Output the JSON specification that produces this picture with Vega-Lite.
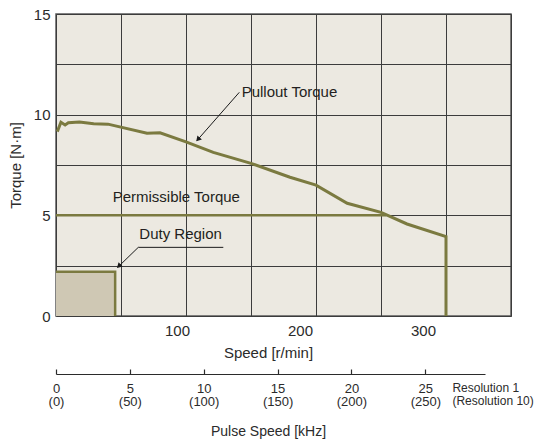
{
  "$schema": "https://vega.github.io/schema/vega-lite/v6.json",
  "padding": {"left": 8, "top": 7, "right": 5, "bottom": 5},
  "background": "white",
  "width": 455,
  "height": 302,
  "config": {
    "font": "Liberation Sans",
    "axis": {
      "labelFont": "Liberation Sans",
      "titleFont": "Liberation Sans",
      "labelColor": "#2b2b2b",
      "titleColor": "#2b2b2b",
      "titleFontWeight": "normal",
      "labelFontSize": 15,
      "titleFontSize": 15
    }
  },
  "view": {"fill": "#ece9e1", "stroke": "#5a5a5a", "strokeWidth": 1.5},
  "datasets": {
    "pullout": [
      {"i": 0, "r": 1, "t": 9.16},
      {"i": 1, "r": 3.8, "t": 9.62},
      {"i": 2, "r": 7, "t": 9.49},
      {"i": 3, "r": 9.5, "t": 9.6},
      {"i": 4, "r": 18, "t": 9.64},
      {"i": 5, "r": 29, "t": 9.55},
      {"i": 6, "r": 40, "t": 9.53},
      {"i": 7, "r": 70, "t": 9.08},
      {"i": 8, "r": 80, "t": 9.1},
      {"i": 9, "r": 100, "t": 8.65},
      {"i": 10, "r": 121, "t": 8.13},
      {"i": 11, "r": 150, "t": 7.58},
      {"i": 12, "r": 180, "t": 6.89},
      {"i": 13, "r": 200, "t": 6.5},
      {"i": 14, "r": 224, "t": 5.6},
      {"i": 15, "r": 250, "t": 5.15},
      {"i": 16, "r": 270, "t": 4.57},
      {"i": 17, "r": 300, "t": 3.94},
      {"i": 18, "r": 300, "t": 0}
    ],
    "permissible": [
      {"r": 0, "t": 5},
      {"r": 254, "t": 5}
    ],
    "dutybox": [
      {"r": 0, "r2": 45.5, "t": 0, "t2": 2.2}
    ],
    "dutyedge": [
      {"i": 0, "r": 0, "t": 2.2},
      {"i": 1, "r": 45.5, "t": 2.2},
      {"i": 2, "r": 45.5, "t": 0}
    ],
    "leaders": [
      {"g": "pullout", "i": 0, "r": 141, "t": 11.11},
      {"g": "pullout", "i": 1, "r": 108.5, "t": 8.72},
      {"g": "duty", "i": 0, "r": 128.7, "t": 3.41},
      {"g": "duty", "i": 1, "r": 63.3, "t": 3.41},
      {"g": "duty", "i": 2, "r": 47.5, "t": 2.42}
    ],
    "headPullout": [{"r": 109.2, "t": 8.77}],
    "headDuty": [{"r": 48.3, "t": 2.47}],
    "notes": [
      {"r": 142.8, "t": 11.14, "label": "Pullout Torque"},
      {"r": 43.6, "t": 5.9, "label": "Permissible Torque"},
      {"r": 64.1, "t": 4.07, "label": "Duty Region"}
    ]
  },
  "resolve": {"scale": {"x": "independent"}},
  "layer": [
    {
      "data": {"name": "dutybox"},
      "mark": {"type": "rect", "fill": "#cfc8b4", "stroke": null},
      "encoding": {
        "x": {"field": "r", "type": "quantitative",
          "scale": {"domain": [0, 350], "nice": false, "zero": false},
          "axis": {"values": [0, 50, 100, 150, 200, 250, 300, 350], "grid": true, "gridColor": "#3c3c3c", "gridWidth": 1, "gridOpacity": 1, "labels": false, "ticks": false, "domain": false, "title": null, "orient": "bottom"}},
        "x2": {"field": "r2"},
        "y": {"field": "t", "type": "quantitative",
          "scale": {"domain": [0, 15], "nice": false, "zero": false},
          "axis": {"values": [0, 2.5, 5, 7.5, 10, 12.5, 15], "labelExpr": "datum.value % 5 == 0 ? datum.label : ''", "grid": true, "gridColor": "#3c3c3c", "gridWidth": 1, "gridOpacity": 1, "ticks": false, "domain": false, "labelPadding": 6, "title": "Torque [N·m]", "titlePadding": 10}},
        "y2": {"field": "t2"}
      }
    },
    {
      "data": {"name": "dutyedge"},
      "mark": {"type": "line", "color": "#7b7a40", "strokeWidth": 2.5},
      "encoding": {
        "x": {"field": "r", "type": "quantitative", "scale": {"domain": [0, 350], "nice": false, "zero": false}, "axis": null},
        "y": {"field": "t", "type": "quantitative"},
        "order": {"field": "i", "type": "quantitative"}
      }
    },
    {
      "data": {"name": "permissible"},
      "mark": {"type": "line", "color": "#7b7a40", "strokeWidth": 2.5},
      "encoding": {
        "x": {"field": "r", "type": "quantitative", "scale": {"domain": [0, 350], "nice": false, "zero": false}, "axis": null},
        "y": {"field": "t", "type": "quantitative"}
      }
    },
    {
      "data": {"name": "pullout"},
      "mark": {"type": "line", "color": "#7b7a40", "strokeWidth": 3},
      "encoding": {
        "x": {"field": "r", "type": "quantitative", "scale": {"domain": [0, 350], "nice": false, "zero": false}, "axis": null},
        "y": {"field": "t", "type": "quantitative"},
        "order": {"field": "i", "type": "quantitative"}
      }
    },
    {
      "data": {"name": "leaders"},
      "mark": {"type": "line", "color": "#1a1a1a", "strokeWidth": 1},
      "encoding": {
        "x": {"field": "r", "type": "quantitative", "scale": {"domain": [0, 350], "nice": false, "zero": false}, "axis": null},
        "y": {"field": "t", "type": "quantitative"},
        "detail": {"field": "g"},
        "order": {"field": "i", "type": "quantitative"}
      }
    },
    {
      "data": {"name": "headPullout"},
      "mark": {"type": "point", "shape": "triangle-up", "filled": true, "color": "#1a1a1a", "opacity": 1, "size": 35, "angle": 221},
      "encoding": {
        "x": {"field": "r", "type": "quantitative", "scale": {"domain": [0, 350], "nice": false, "zero": false}, "axis": null},
        "y": {"field": "t", "type": "quantitative"}
      }
    },
    {
      "data": {"name": "headDuty"},
      "mark": {"type": "point", "shape": "triangle-up", "filled": true, "color": "#1a1a1a", "opacity": 1, "size": 35, "angle": 226},
      "encoding": {
        "x": {"field": "r", "type": "quantitative", "scale": {"domain": [0, 350], "nice": false, "zero": false}, "axis": null},
        "y": {"field": "t", "type": "quantitative"}
      }
    },
    {
      "data": {"name": "notes"},
      "mark": {"type": "text", "align": "left", "baseline": "middle", "fontSize": 15, "color": "#231f20", "font": "Liberation Sans"},
      "encoding": {
        "x": {"field": "r", "type": "quantitative", "scale": {"domain": [0, 350], "nice": false, "zero": false}, "axis": null},
        "y": {"field": "t", "type": "quantitative"},
        "text": {"field": "label"}
      }
    },
    {
      "data": {"values": [{"r": 0}]},
      "mark": {"type": "point", "opacity": 0},
      "encoding": {
        "x": {"field": "r", "type": "quantitative",
          "scale": {"domain": [1.63, 371.5], "nice": false, "zero": false},
          "axis": {"orient": "bottom", "values": [0, 100, 200, 300], "ticks": false, "domain": false, "grid": false, "labelPadding": 7, "labelOverlap": false, "labelFlush": false, "title": "Speed [r/min]", "titlePadding": 7, "titleX": 212}}
      }
    },
    {
      "data": {"values": [{"k": 0}]},
      "mark": {"type": "point", "opacity": 0},
      "encoding": {
        "x": {"field": "k", "type": "quantitative",
          "scale": {"domain": [0, 30.8], "nice": false, "zero": false},
          "axis": {"orient": "top", "offset": -360, "values": [0, 5, 10, 15, 20, 25], "labels": false, "ticks": true, "tickSize": 5, "tickColor": "#2b2b2b", "tickWidth": 1.2, "domain": true, "domainColor": "#2b2b2b", "domainWidth": 1.2, "domainDash": [429, 200], "grid": false, "title": null}}
      }
    },
    {
      "data": {"values": [{"k": 0}]},
      "mark": {"type": "point", "opacity": 0},
      "encoding": {
        "x": {"field": "k", "type": "quantitative",
          "scale": {"domain": [0, 30.8], "nice": false, "zero": false},
          "axis": {"orient": "bottom", "offset": 58, "values": [0, 5, 10, 15, 20, 25, 26.8],
            "labelExpr": "datum.value > 26 ? 'Resolution 1' : datum.label",
            "labelAlign": {"condition": {"test": "datum.value > 26", "value": "left"}, "value": "center"},
            "labelFontSize": {"condition": {"test": "datum.value > 26", "value": 12}, "value": 13},
            "labelOverlap": false, "labelFlush": false, "labelBound": false, "ticks": false, "domain": false, "grid": false, "labelPadding": 8, "title": null}}
      }
    },
    {
      "data": {"values": [{"k": 0}]},
      "mark": {"type": "point", "opacity": 0},
      "encoding": {
        "x": {"field": "k", "type": "quantitative",
          "scale": {"domain": [0, 30.8], "nice": false, "zero": false},
          "axis": {"orient": "bottom", "offset": 58, "values": [0, 5, 10, 15, 20, 25, 26.8],
            "labelExpr": "datum.value > 26 ? '(Resolution 10)' : '(' + format(datum.value * 10, 'd') + ')'",
            "labelAlign": {"condition": {"test": "datum.value > 26", "value": "left"}, "value": "center"},
            "labelFontSize": {"condition": {"test": "datum.value > 26", "value": 12}, "value": 13},
            "labelOverlap": false, "labelFlush": false, "labelBound": false, "ticks": false, "domain": false, "grid": false, "labelPadding": 21, "title": "Pulse Speed [kHz]", "titleFontSize": 14, "titlePadding": 16, "titleX": 212}}
      }
    }
  ]
}
